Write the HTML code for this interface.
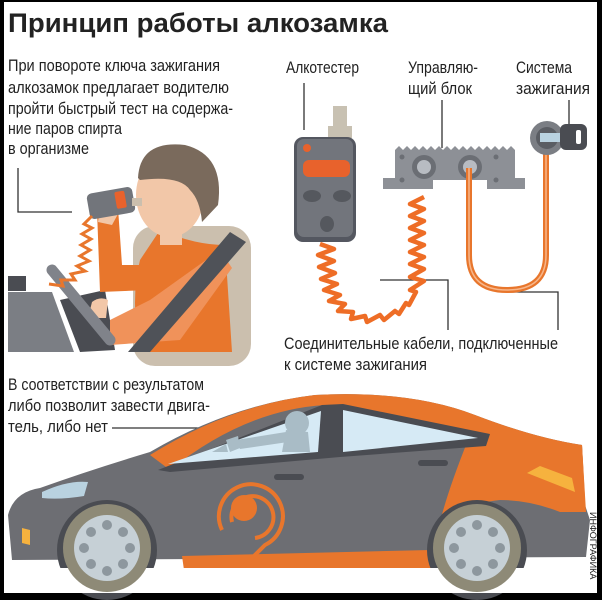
<!DOCTYPE html>
<html><head><meta charset="utf-8"><style>
html,body{margin:0;padding:0;background:#000}
svg{display:block}
text{font-family:"Liberation Sans",sans-serif;fill:#222}
</style></head><body>
<svg width="602" height="600" viewBox="0 0 602 600" xmlns="http://www.w3.org/2000/svg">
<rect x="4" y="2" width="593" height="591" fill="#fff"/>
<text x="8" y="32" font-size="27" font-weight="bold" textLength="380" lengthAdjust="spacingAndGlyphs">Принцип работы алкозамка</text>
<g font-size="16.5">
<text x="8" y="71" textLength="212" lengthAdjust="spacingAndGlyphs">При повороте ключа зажигания</text>
<text x="8" y="93" textLength="221" lengthAdjust="spacingAndGlyphs">алкозамок  предлагает водителю</text>
<text x="8" y="114" textLength="225" lengthAdjust="spacingAndGlyphs">пройти быстрый тест на содержа-</text>
<text x="8" y="134" textLength="114" lengthAdjust="spacingAndGlyphs">ние паров спирта</text>
<text x="8" y="154" textLength="81" lengthAdjust="spacingAndGlyphs">в организме</text>
<text x="286" y="73" textLength="73" lengthAdjust="spacingAndGlyphs">Алкотестер</text>
<text x="408" y="73" textLength="70" lengthAdjust="spacingAndGlyphs">Управляю-</text>
<text x="408" y="94" textLength="64" lengthAdjust="spacingAndGlyphs">щий блок</text>
<text x="516" y="73" textLength="56" lengthAdjust="spacingAndGlyphs">Система</text>
<text x="516" y="94" textLength="74" lengthAdjust="spacingAndGlyphs">зажигания</text>
<text x="284" y="349" textLength="274" lengthAdjust="spacingAndGlyphs">Соединительные кабели,  подключенные</text>
<text x="284" y="370" textLength="143" lengthAdjust="spacingAndGlyphs">к системе зажигания</text>
<text x="8" y="390" textLength="196" lengthAdjust="spacingAndGlyphs">В соответствии с результатом</text>
<text x="8" y="411" textLength="202" lengthAdjust="spacingAndGlyphs">либо позволит завести двига-</text>
<text x="8" y="432" textLength="100" lengthAdjust="spacingAndGlyphs">тель, либо нет</text>
</g>
<g stroke="#333" stroke-width="1.3" fill="none">
<path d="M18 168V212H72"/>
<path d="M304 83V130"/>
<path d="M442 100V148"/>
<path d="M569 100V128"/>
<path d="M380 280H448V330"/>
<path d="M508 292H558V330"/>
<path d="M112 428H250"/>
</g>
<!-- person scene -->
<rect x="133" y="226" width="118" height="140" rx="22" fill="#cbbfae"/>
<path d="M8 292H52L74 352H8Z" fill="#7b7e84"/>
<rect x="8" y="276" width="18" height="15" fill="#4a4c52"/>
<path d="M60 300L105 290L115 350L80 352Z" fill="#4a4c52"/>
<path d="M160 230Q195 245 225 245L232 352H140Q130 300 140 260Z" fill="#e8762c"/>
<path d="M97 210L118 208L122 265L145 265L150 290L100 292Z" fill="#e8762c"/>
<path d="M150 300L220 250L232 268L180 340L110 345L110 320Z" fill="#f0925a"/>
<path d="M230 232L246 242L150 352H128Z" fill="#4f5258"/>
<ellipse cx="170" cy="195" rx="34" ry="42" fill="#f2c7a8"/>
<rect x="160" y="225" width="22" height="20" fill="#f2c7a8"/>
<path d="M138 178Q140 140 185 145Q225 155 218 205L202 222Q200 200 190 190Q180 175 140 180Z" fill="#7a6a5c"/>
<path d="M92 302Q100 296 108 300L106 318H88Z" fill="#f2c7a8"/>
<line x1="52" y1="270" x2="110" y2="340" stroke="#80838a" stroke-width="11" stroke-linecap="round"/>
<path d="M100 208Q110 204 118 214L112 225L98 222Z" fill="#f2c7a8"/>
<rect x="88" y="190" width="46" height="26" rx="5" fill="#72757b" transform="rotate(-10 111 203)"/>
<rect x="116" y="193" width="10" height="17" rx="2" fill="#e8622c" transform="rotate(-10 111 203)"/>
<rect x="132" y="198" width="10" height="8" fill="#cbbfae"/>
<path d="M92 216l-8 8 8 4-10 6 9 5-10 6 9 5-10 6 9 5-12 5 8 5-14 3 4 6-14 0 2 6-14-2" fill="none" stroke="#e8762c" stroke-width="3"/>
<!-- alcotester -->
<path d="M333 106H347V126H352V138H328V126H333Z" fill="#c8c1b2"/>
<rect x="294" y="137" width="62" height="105" rx="9" fill="#545760"/>
<rect x="297" y="139" width="56" height="98" rx="7" fill="#72757c"/>
<circle cx="307" cy="148" r="4" fill="#e8622c"/>
<rect x="303" y="160" width="47" height="17" rx="6" fill="#e8622c"/>
<ellipse cx="312" cy="196" rx="9" ry="6" fill="#55585e"/>
<ellipse cx="342" cy="196" rx="9" ry="6" fill="#55585e"/>
<ellipse cx="327" cy="224" rx="7" ry="8" fill="#55585e"/>
<!-- coiled cable -->
<path d="M320 244l14 5-16 6 16 6-15 6 16 6-14 6 16 5-13 6 16 5-11 6 16 3-7 7 15 1-2 7 14-3 2 6 13-7 4 5 11-9 4 3 7-11 3 2 7-13-6-2 14-9-14-4 14-8-14-5 14-7-14-5 14-7-14-5 14-7-14-5 14-7-14-5 14-7-14-5 14-7" fill="none" stroke="#ee6d26" stroke-width="4.5" stroke-linejoin="round"/>
<!-- control block -->
<path d="M395 150l4-4 4 4 4-4 4 4 4-4 4 4 4-4 4 4 4-4 4 4 4-4 4 4 4-4 4 4 4-4 4 4 4-4 4 4 4-4 4 4 4-4 4 4 4-4 4 4 4-4 4 4 4-4 4 4 4-4 4 4V178H525V189H487V180H433V189H383V178H395Z" fill="#8d9096"/>
<circle cx="424" cy="167" r="12" fill="#6b6e74"/><circle cx="424" cy="167" r="7" fill="#b8bcc2"/>
<circle cx="470" cy="167" r="12" fill="#6b6e74"/><circle cx="470" cy="167" r="7" fill="#b8bcc2"/>
<g fill="#6b6e74"><circle cx="402" cy="157" r="2.5"/><circle cx="402" cy="180" r="2.5"/><circle cx="496" cy="157" r="2.5"/><circle cx="496" cy="180" r="2.5"/></g>
<!-- orange tube -->
<path d="M469 168V255Q469 290 507 290Q546 290 546 255V152" fill="none" stroke="#e8762c" stroke-width="6"/>
<path d="M469 168V255Q469 290 507 290Q546 290 546 255V152" fill="none" stroke="#f7b68a" stroke-width="1.5"/>
<!-- ignition -->
<circle cx="547" cy="138" r="17" fill="#7b7e84"/><circle cx="547" cy="138" r="11" fill="#5a5d63"/>
<rect x="540" y="133" width="22" height="9" fill="#b9d2e0"/>
<rect x="560" y="124" width="27" height="26" rx="6" fill="#4a4c52"/>
<rect x="576" y="130" width="5" height="14" rx="2" fill="#fff"/>
<!-- car -->
<path d="M12 560L8 515Q14 492 40 488Q90 470 150 452Q230 405 315 395Q410 390 475 415Q535 438 582 445L585 505L590 520L586 557Z" fill="#6d6e73"/>
<path d="M150 455Q230 405 315 395Q410 390 475 415Q535 438 582 445L585 500L568 495Q520 470 485 443L470 440Q410 418 325 405Q245 410 170 470Z" fill="#e8762c"/>
<path d="M468 440L582 445L586 512L560 512Q530 500 500 500Q455 505 440 522Q448 490 468 440Z" fill="#e8762c"/>
<path d="M182 556L430 550L436 570L184 570Z" fill="#e8762c"/>
<path d="M158 470L322 405L343 404L490 434L486 446L340 457L170 472Z" fill="#4a4c52"/>
<path d="M168 464L321 411L318 452Z" fill="#d6eaf5"/>
<path d="M343 410L478 438L343 452Z" fill="#d6eaf5"/>
<g fill="#a9bcc6"><circle cx="297" cy="423" r="12"/><path d="M286 430L308 432L310 452H282Z"/><path d="M236 440L286 432L288 442L240 449Z"/><path d="M226 440L238 436L240 448L230 452Z"/><path d="M212 452L226 444L228 452Z"/></g>
<path d="M527 473L540 466L572 478L575 492Z" fill="#f6b23e"/>
<path d="M42 492Q68 480 88 482L84 496Q60 500 42 498Z" fill="#b9d2e0"/>
<path d="M22 528L30 530L30 545L22 543Z" fill="#f6b23e"/>
<rect x="274" y="474" width="30" height="6" rx="3" fill="#4a4c52"/>
<rect x="418" y="460" width="30" height="6" rx="3" fill="#4a4c52"/>
<g fill="none" stroke="#e8762c" stroke-width="4"><path d="M222 530A32 32 0 1 1 265 545L232 578"/><path d="M232 522A21 21 0 1 1 255 538"/></g>
<circle cx="244" cy="508" r="13" fill="#e8762c"/>
<circle cx="107" cy="550" r="50" fill="#4a4c52"/>
<circle cx="477" cy="550" r="50" fill="#4a4c52"/>
<rect x="4" y="568" width="593" height="25" fill="#fff"/>
<g>
<circle cx="107" cy="548" r="44" fill="#8e8a77"/><circle cx="107" cy="548" r="33" fill="#c6d0d6"/>
<circle cx="477" cy="548" r="44" fill="#8e8a77"/><circle cx="477" cy="548" r="33" fill="#c6d0d6"/>
<g fill="#8d979e"><circle cx="107" cy="525" r="5"/><circle cx="107" cy="571" r="5"/><circle cx="84" cy="548" r="5"/><circle cx="130" cy="548" r="5"/><circle cx="91" cy="532" r="5"/><circle cx="123" cy="532" r="5"/><circle cx="91" cy="564" r="5"/><circle cx="123" cy="564" r="5"/>
<circle cx="477" cy="525" r="5"/><circle cx="477" cy="571" r="5"/><circle cx="454" cy="548" r="5"/><circle cx="500" cy="548" r="5"/><circle cx="461" cy="532" r="5"/><circle cx="493" cy="532" r="5"/><circle cx="461" cy="564" r="5"/><circle cx="493" cy="564" r="5"/></g>
</g>
<text x="0" y="0" font-size="9" transform="translate(590 512) rotate(90)" fill="#333">ИНФОГРАФИКА</text>
</svg>
</body></html>
